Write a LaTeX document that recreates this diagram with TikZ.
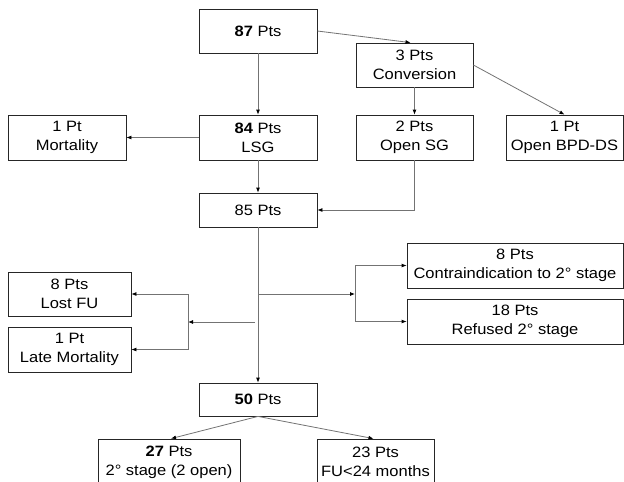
\documentclass[tikz,border=0pt]{standalone}
\usepackage{fontspec}
\setmainfont{Liberation Sans}[FakeStretch=1.1]
\usetikzlibrary{arrows.meta}
\tikzset{
    box/.style = {draw=black!85, line width=0.8pt, align=center, inner sep=0pt,
                  font=\fontsize{15}{19}\selectfont},
    arr/.style = {draw=black!55, line width=0.8pt, -{Latex[length=5pt,width=4pt,color=black]}}
}
\begin{document}
\begin{tikzpicture}[x=1pt, y=-1pt]
            \clip (0,0) rectangle (624,482);
            % boxes
            \node[box, minimum width=118, minimum height=44] (n87) at (258,31) {\textbf{87} Pts};
            \node[box, minimum width=117, minimum height=44] (conv) at (414.5,65) {3 Pts\\Conversion};
            \node[box, minimum width=118, minimum height=45] (n84) at (258,137.5) {\textbf{84} Pts\\LSG};
            \node[box, minimum width=117, minimum height=45] (osg) at (414.5,137.5) {2 Pts\\Open SG};
            \node[box, minimum width=117, minimum height=45] (bpd) at (564.5,137.5) {1 Pt\\Open BPD-DS};
            \node[box, minimum width=118, minimum height=45] (mort) at (67,137.5) {1 Pt\\Mortality};
            \node[box, minimum width=118, minimum height=34] (n85) at (258,210) {85 Pts};
            \node[box, minimum width=123, minimum height=44] (lost) at (69.5,294) {8 Pts\\Lost FU};
            \node[box, minimum width=123, minimum height=45] (late) at (69.5,349.5) {1 Pt\\Late Mortality};
            \node[box, minimum width=216, minimum height=45] (contra) at (515,265.5) {8 Pts\\Contraindication to 2° stage};
            \node[box, minimum width=216, minimum height=45] (refu) at (515,321.5) {18 Pts\\Refused 2° stage};
            \node[box, minimum width=118, minimum height=33] (n50) at (258,399.5) {\textbf{50} Pts};
            \node[box, minimum width=142, minimum height=46] (st2) at (169,462) {\textbf{27} Pts\\2° stage (2 open)};
            \node[box, minimum width=117, minimum height=46] (fu24) at (375.5,462) {23 Pts\\FU<24 months};
            % split points
            \coordinate (lsplit) at (258,322);
            \coordinate (lbar) at (188,322);
            \coordinate (rsplit) at (258,294);
            \coordinate (rbar) at (355,294);
            % connectors
            \draw[arr] (n87) -- (n84);
            \draw[arr] (n87.east) -- ([xshift=-4]conv.north);
            \draw[arr] (conv) -- (osg);
            \draw[arr] (conv.east) -- (bpd.north);
            \draw[arr] (n84) -- (mort);
            \draw[arr] (n84) -- (n85);
            \draw[arr] (osg.south) |- (n85.east);
            \draw[arr] (n85) -- (n50);
            \draw[arr, shorten <=3pt] (lsplit) -- (lbar);
            \draw[arr] (lbar) |- (lost);
            \draw[arr] (lbar) |- (late);
            \draw[arr] (rsplit) -- (rbar);
            \draw[arr] (rbar) |- (contra);
            \draw[arr] (rbar) |- (refu);
            \draw[arr] (n50.south) -- ([xshift=2]st2.north);
            \draw[arr] (n50.south) -- ([xshift=-2]fu24.north);
        \end{tikzpicture}
\end{document}
